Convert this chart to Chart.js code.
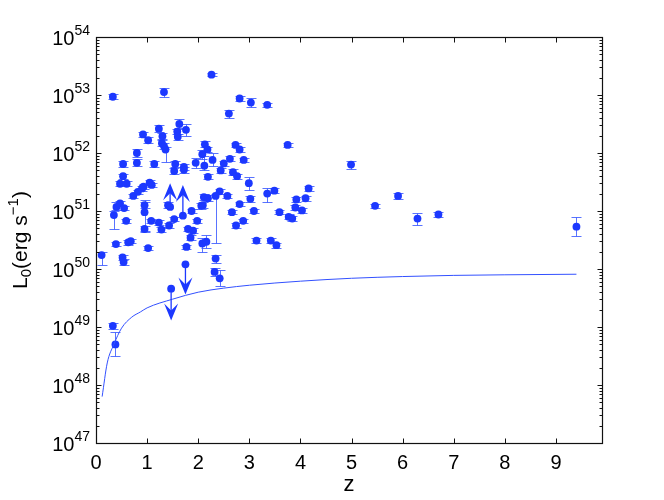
<!DOCTYPE html>
<html lang="en">
<head>
<meta charset="UTF-8">
<title>L0 vs z</title>
<script src="https://cdn.jsdelivr.net/npm/chart.js"></script>
<style>
    body { margin: 0; background: #fff; }
</style>
</head>
<body>
<canvas id="myChart" width="664" height="500"></canvas>
<script>
// redshift and log10 luminosity of each burst, error bars in dex
const zVals = [0.11, 0.33, 0.33, 0.38, 0.52, 0.54, 0.35, 0.40, 0.47, 0.55,
    0.59, 0.39, 0.63, 0.68, 1.02, 0.53, 0.53, 0.47, 0.60, 0.73,
    0.82, 0.90, 0.93, 1.05, 1.09, 0.80, 0.80, 0.92, 1.02, 1.14,
    1.23, 1.30, 1.29, 1.33, 1.36, 1.33, 1.63, 1.59, 1.60, 1.76,
    1.55, 1.53, 1.72, 1.72, 1.95, 1.41, 0.95, 0.95, 0.95, 1.08,
    1.23, 1.28, 1.43, 1.53, 1.87, 1.80, 1.98, 1.90, 1.85, 1.77,
    2.06, 2.26, 2.81, 3.03, 3.35, 2.60, 2.13, 2.18, 2.08, 2.28,
    2.12, 2.50, 2.62, 2.73, 2.81, 2.89, 3.75, 2.44, 2.68, 2.76,
    2.19, 2.99, 3.35, 3.49, 4.16, 3.92, 4.10, 2.42, 2.34, 2.57,
    3.02, 2.11, 2.19, 2.09, 2.66, 2.81, 3.09, 3.59, 3.90, 4.03,
    3.77, 3.84, 2.88, 2.74, 3.14, 3.42, 3.53, 2.08, 2.16, 2.34,
    2.32, 2.42, 4.99, 5.46, 5.91, 6.29, 6.70, 9.40];
const logL = [50.24, 52.97, 49.02, 48.70, 50.20, 50.12, 50.93, 51.07, 51.13, 51.05,
    50.83, 50.43, 50.46, 50.48, 50.36, 51.81, 51.60, 51.47, 51.47, 51.26,
    51.33, 51.39, 51.42, 51.49, 51.45, 52.00, 51.83, 52.32, 52.22, 51.81,
    52.42, 52.29, 52.17, 52.12, 52.06, 53.05, 52.50, 52.37, 52.28, 52.40,
    51.81, 51.69, 51.76, 51.71, 51.83, 51.10, 51.10, 50.98, 50.69, 50.83,
    50.80, 50.68, 50.75, 50.86, 51.00, 50.69, 50.83, 50.66, 50.54, 50.38,
    51.09, 53.35, 52.94, 52.87, 52.83, 52.68, 52.15, 52.06, 51.98, 51.88,
    51.78, 51.82, 51.90, 52.14, 52.06, 51.88, 52.14, 51.70, 51.67, 51.60,
    51.59, 51.48, 51.30, 51.35, 51.39, 51.20, 51.22, 51.34, 51.26, 51.26,
    51.21, 51.24, 51.22, 51.10, 50.98, 51.12, 51.00, 50.98, 51.06, 51.01,
    50.90, 50.87, 50.83, 50.75, 50.49, 50.49, 50.41, 50.44, 50.47, 50.18,
    49.95, 49.84, 51.80, 51.09, 51.26, 50.87, 50.94, 50.73];
const errLo = [0.17, 0.04, 0.05, 0.20, 0.05, 0.05, 0.24, 0.05, 0.05, 0.04,
    0.04, 0.04, 0.04, 0.04, 0.04, 0.05, 0.04, 0.04, 0.04, 0.04,
    0.04, 0.04, 0.04, 0.04, 0.04, 0.07, 0.06, 0.05, 0.05, 0.05,
    0.06, 0.05, 0.05, 0.05, 0.22, 0.08, 0.07, 0.05, 0.05, 0.10,
    0.05, 0.05, 0.05, 0.05, 0.08, 0.05, 0.05, 0.32, 0.05, 0.04,
    0.04, 0.04, 0.04, 0.04, 0.04, 0.04, 0.04, 0.04, 0.04, 0.04,
    0.05, 0.03, 0.04, 0.08, 0.04, 0.07, 0.05, 0.05, 0.08, 0.10,
    0.07, 0.04, 0.04, 0.04, 0.04, 0.04, 0.04, 0.04, 0.05, 0.04,
    0.04, 0.12, 0.14, 0.04, 0.04, 0.04, 0.04, 0.04, 0.82, 0.04,
    0.05, 0.05, 0.05, 0.05, 0.04, 0.04, 0.04, 0.04, 0.04, 0.04,
    0.04, 0.04, 0.04, 0.04, 0.04, 0.04, 0.04, 0.15, 0.10, 0.07,
    0.07, 0.14, 0.07, 0.03, 0.05, 0.11, 0.05, 0.16];
const errHi = [0.06, 0.04, 0.05, 0.21, 0.05, 0.05, 0.07, 0.09, 0.05, 0.04,
    0.04, 0.04, 0.04, 0.04, 0.04, 0.05, 0.04, 0.04, 0.04, 0.04,
    0.04, 0.04, 0.04, 0.04, 0.04, 0.07, 0.06, 0.05, 0.05, 0.05,
    0.06, 0.05, 0.05, 0.05, 0.05, 0.07, 0.09, 0.05, 0.05, 0.10,
    0.05, 0.05, 0.05, 0.05, 0.08, 0.05, 0.05, 0.21, 0.05, 0.04,
    0.04, 0.04, 0.04, 0.04, 0.04, 0.04, 0.04, 0.04, 0.04, 0.04,
    0.05, 0.03, 0.04, 0.08, 0.04, 0.06, 0.05, 0.05, 0.08, 0.12,
    0.17, 0.04, 0.04, 0.04, 0.04, 0.04, 0.04, 0.04, 0.05, 0.04,
    0.04, 0.11, 0.10, 0.04, 0.04, 0.04, 0.04, 0.04, 0.03, 0.04,
    0.05, 0.05, 0.05, 0.05, 0.04, 0.04, 0.04, 0.04, 0.04, 0.04,
    0.04, 0.04, 0.04, 0.04, 0.04, 0.04, 0.04, 0.10, 0.12, 0.07,
    0.07, 0.14, 0.07, 0.03, 0.05, 0.09, 0.05, 0.16];

// limits: marker at "from", arrow to "to"
const limZ = [1.45, 1.70, 1.47, 1.75];
const limFrom = [51.07, 50.92, 49.66, 50.08];
const limTo = [51.48, 51.45, 49.11, 49.56];

// detection threshold curve
const curveZ = [0.12, 0.22, 0.35, 0.5, 0.7, 0.87, 1.0, 1.5, 2.0, 2.5, 3, 4, 5, 6, 7, 8, 9.4];
const curveLogL = [47.8, 48.38, 48.7, 48.98, 49.17, 49.26, 49.33, 49.48, 49.6, 49.67,
    49.72, 49.79, 49.84, 49.87, 49.89, 49.9, 49.91];

const xTicks = [0, 1, 2, 3, 4, 5, 6, 7, 8, 9];
const yDecades = [47, 48, 49, 50, 51, 52, 53, 54];

const blue = 'rgb(28, 56, 255)';
const barBlue = 'rgba(60, 90, 255, 0.85)';
const font = '"Liberation Sans", Arial, sans-serif';

const points = zVals.map((z, i) => ({ x: z, y: 10 ** logL[i] }))
    .concat(limZ.map((z, i) => ({ x: z, y: 10 ** limFrom[i] })));
const curve = curveZ.map((z, i) => ({ x: z, y: 10 ** curveLogL[i] }));

const errorBars = {
    id: 'errorBars',
    beforeDatasetsDraw(chart) {
        const { ctx, scales: { x, y } } = chart;
        ctx.save();
        ctx.strokeStyle = barBlue;
        ctx.lineWidth = 1;
        zVals.forEach((z, i) => {
            const px = Math.round(x.getPixelForValue(z)) + 0.5;
            const yt = Math.round(y.getPixelForValue(10 ** (logL[i] + errHi[i]))) + 0.5;
            const yb = Math.round(y.getPixelForValue(10 ** (logL[i] - errLo[i]))) + 0.5;
            ctx.beginPath();
            ctx.moveTo(px, yt); ctx.lineTo(px, yb);
            ctx.moveTo(px - 5, yt); ctx.lineTo(px + 5, yt);
            ctx.moveTo(px - 5, yb); ctx.lineTo(px + 5, yb);
            ctx.stroke();
        });
        ctx.restore();
    },
    afterDatasetsDraw(chart) {
        const { ctx, scales: { x, y } } = chart;
        ctx.save();
        ctx.strokeStyle = blue;
        ctx.fillStyle = blue;
        ctx.lineWidth = 1.3;
        limZ.forEach((z, i) => {
            const px = x.getPixelForValue(z);
            const y0 = y.getPixelForValue(10 ** limFrom[i]);
            const y1 = y.getPixelForValue(10 ** limTo[i]);
            const d = y1 > y0 ? 1 : -1;
            ctx.beginPath();
            ctx.moveTo(px, y0); ctx.lineTo(px, y1 - d * 8);
            ctx.stroke();
            ctx.beginPath();
            ctx.moveTo(px, y1);
            ctx.lineTo(px - 7, y1 - d * 17);
            ctx.lineTo(px, y1 - d * 10);
            ctx.lineTo(px + 7, y1 - d * 17);
            ctx.closePath();
            ctx.fill();
        });
        ctx.restore();
    }
};

const frame = {
    id: 'frame',
    afterDraw(chart) {
        const { ctx, chartArea: a, scales: { x, y } } = chart;
        const L = Math.round(a.left) + 0.5, R = Math.round(a.right) + 0.5;
        const T = Math.round(a.top) + 0.5, B = Math.round(a.bottom) + 0.5;
        ctx.save();
        ctx.strokeStyle = '#111';
        ctx.lineWidth = 1.2;
        ctx.strokeRect(L, T, R - L, B - T);
        ctx.lineWidth = 1;
        ctx.beginPath();
        xTicks.forEach(t => {
            const px = Math.round(x.getPixelForValue(t)) + 0.5;
            ctx.moveTo(px, B); ctx.lineTo(px, B - 5);
            ctx.moveTo(px, T); ctx.lineTo(px, T + 5);
        });
        yDecades.forEach(d => {
            const py = Math.round(y.getPixelForValue(10 ** d)) + 0.5;
            ctx.moveTo(L, py); ctx.lineTo(L + 5, py);
            ctx.moveTo(R, py); ctx.lineTo(R - 5, py);
            if (d < 54) {
                for (let k = 2; k <= 9; k++) {
                    const pm = Math.round(y.getPixelForValue(k * 10 ** d)) + 0.5;
                    ctx.moveTo(L, pm); ctx.lineTo(L + 3, pm);
                    ctx.moveTo(R, pm); ctx.lineTo(R - 3, pm);
                }
            }
        });
        ctx.stroke();

        ctx.fillStyle = '#000';
        // x tick labels
        ctx.font = '20px ' + font;
        ctx.textAlign = 'center';
        ctx.textBaseline = 'alphabetic';
        xTicks.forEach(t => ctx.fillText(String(t), x.getPixelForValue(t), 469));
        ctx.font = '22px ' + font;
        ctx.fillText('z', (a.left + a.right) / 2, 491);

        // y tick labels 10^n
        ctx.textAlign = 'left';
        yDecades.forEach(d => {
            const py = y.getPixelForValue(10 ** d);
            ctx.font = '14px ' + font;
            const we = ctx.measureText(String(d)).width;
            ctx.font = '20px ' + font;
            const wb = ctx.measureText('10').width;
            const x0 = 90 - we - wb;
            ctx.fillText('10', x0, py + 8);
            ctx.font = '14px ' + font;
            ctx.fillText(String(d), x0 + wb, py - 2.5);
        });

        // y title L_0(erg s^-1)
        const parts = [
            { t: 'L', s: 21, dy: 0 },
            { t: '0', s: 15, dy: 4 },
            { t: '(erg s', s: 21, dy: 0 },
            { t: '\u22121', s: 15, dy: -9 },
            { t: ')', s: 21, dy: 0 }
        ];
        let total = 0;
        parts.forEach(p => { ctx.font = p.s + 'px ' + font; p.w = ctx.measureText(p.t).width; total += p.w; });
        ctx.translate(27, (a.top + a.bottom) / 2);
        ctx.rotate(-Math.PI / 2);
        let cx = -total / 2;
        parts.forEach(p => {
            ctx.font = p.s + 'px ' + font;
            ctx.fillText(p.t, cx, p.dy);
            cx += p.w;
        });
        ctx.restore();
    }
};

const myChart = new Chart(document.getElementById('myChart'), {
    type: 'scatter',
    data: {
        datasets: [
            {
                label: 'threshold',
                type: 'line',
                data: curve,
                borderColor: 'rgb(50, 80, 255)',
                borderWidth: 1,
                pointRadius: 0,
                fill: false,
                cubicInterpolationMode: 'monotone'
            },
            {
                label: 'GRBs',
                data: points,
                backgroundColor: blue,
                borderWidth: 0,
                pointRadius: 3.9
            }
        ]
    },
    options: {
        responsive: false,
        animation: false,
        devicePixelRatio: 1,
        layout: { padding: { top: 37, right: 62, left: 0, bottom: 0 } },
        plugins: { legend: { display: false }, tooltip: { enabled: false } },
        scales: {
            x: {
                type: 'linear', min: 0, max: 9.9,
                grid: { display: false }, border: { display: false },
                ticks: { display: false },
                afterFit: s => { s.height = 57; }
            },
            y: {
                type: 'logarithmic', min: 1e47, max: 1e54,
                grid: { display: false }, border: { display: false },
                ticks: { display: false },
                afterFit: s => { s.width = 96; }
            }
        }
    },
    plugins: [errorBars, frame]
});
</script>
</body>
</html>
